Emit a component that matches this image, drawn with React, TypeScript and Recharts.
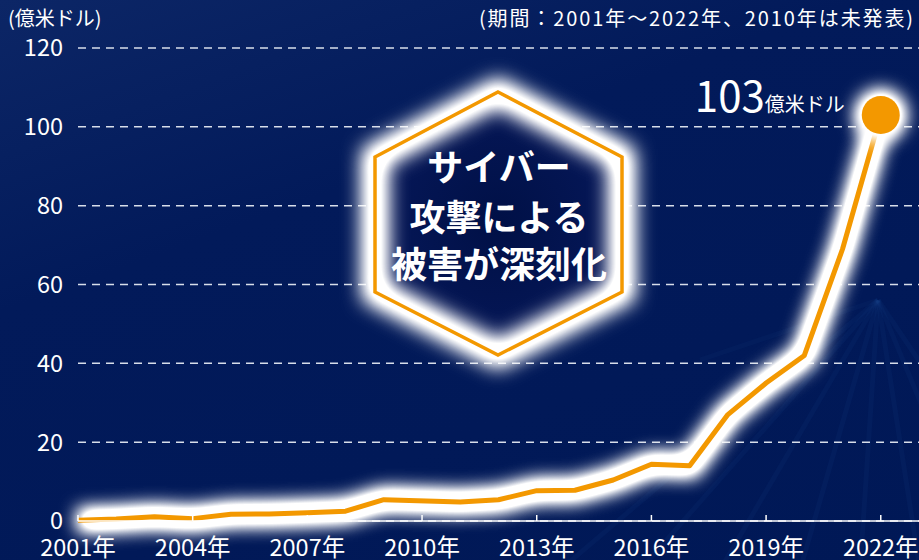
import React from 'react'
import { LineChart, Line, XAxis, YAxis, CartesianGrid } from 'recharts'

const FONT = '"Noto Sans CJK JP", "Noto Sans", sans-serif'

// FBI IC3 被害額（億米ドル）、2010年は未発表
const YEARS = [2001, 2002, 2003, 2004, 2005, 2006, 2007, 2008, 2009, 2010, 2011,
  2012, 2013, 2014, 2015, 2016, 2017, 2018, 2019, 2020, 2021, 2022]
const DAMAGE = [0.2, 0.5, 1.1, 0.6, 1.7, 1.8, 2.1, 2.5, 5.4, null, 4.8,
  5.4, 7.7, 7.8, 10.4, 14.4, 14.0, 27, 35, 42, 69, 103]
const X_TICKS = [2001, 2004, 2007, 2010, 2013, 2016, 2019, 2022]
const Y_TICKS = [0, 20, 40, 60, 80, 100, 120]

const ORANGE = '#f39800'

const YearTick = (props: any) => {
  const { x, y, payload } = props
  return (
    <g>
      <line x1={x} x2={x} y1={y - 6} y2={y} stroke="#ffffff" strokeWidth={1.5} />
      <text x={x} y={y + 35} textAnchor="middle" fill="#ffffff" fontSize={23.5} fontFamily={FONT}>
        {payload.value}年
      </text>
    </g>
  )
}

export default function App() {
  const data = YEARS.map((year, i) => ({ year, value: DAMAGE[i] }))
  const last = data.length - 1

  const renderEndDot = (props: any) => {
    const { cx, cy, index } = props
    if (index !== last || cx == null) return <g key={index} />
    return (
      <g key={index}>
        <circle cx={cx} cy={cy} r={25} fill="#ffffff" filter="url(#glowBig)" />
        <circle cx={cx} cy={cy} r={19} fill={ORANGE} />
        <text x={cx - 36} y={cy - 3} textAnchor="end" fill="#ffffff" fontFamily={FONT}>
          <tspan fontSize={42}>103</tspan>
          <tspan fontSize={20}>億米ドル</tspan>
        </text>
      </g>
    )
  }

  // 六角形の頂点（装飾）
  const hex = '498,92 622,157 622,292 498,355 375,292 375,157'

  return (
    <div style={{
      position: 'absolute', left: 0, top: 0, width: 919, height: 560, overflow: 'hidden',
      background: 'linear-gradient(160deg, #0c2666 0%, #021a5a 35%, #001856 100%)',
      fontFamily: FONT,
    }}>
      {/* 背景の光線 */}
      <svg width={919} height={560} style={{ position: 'absolute', left: 0, top: 0 }}>
        {[560, 640, 720, 800, 860, 920, 990, 1060].map((ex, i) => (
          <line key={i} x1={878} y1={300} x2={ex} y2={570} stroke="#2a5aa0" strokeOpacity={0.08} strokeWidth={5} />
        ))}
        <line x1={878} y1={300} x2={700} y2={360} stroke="#2a5aa0" strokeOpacity={0.07} strokeWidth={5} />
      </svg>

      <LineChart width={919} height={560} data={data}
        margin={{ top: 48, right: 0, bottom: 0, left: 0 }}
        style={{ position: 'absolute', left: 0, top: 0 }}>
        <defs>
          <filter id="glow" x="-10%" y="-30%" width="120%" height="160%">
            <feGaussianBlur stdDeviation="9" />
            <feComponentTransfer>
              <feFuncA type="linear" slope="1.8" />
            </feComponentTransfer>
          </filter>
          <filter id="glowBig" x="-100%" y="-100%" width="300%" height="300%">
            <feGaussianBlur stdDeviation="9" />
            <feComponentTransfer>
              <feFuncA type="linear" slope="1.6" />
            </feComponentTransfer>
          </filter>
        </defs>
        <CartesianGrid vertical={false} stroke="#d8deea" strokeDasharray="8 6" strokeWidth={1.5} />
        <XAxis dataKey="year" type="number" domain={[2001, 2023]} ticks={X_TICKS}
          height={39} tickLine={false} tickSize={0} tickMargin={0}
          axisLine={{ stroke: '#ffffff', strokeWidth: 1.5 }} tick={<YearTick />} interval={0} />
        <YAxis domain={[0, 120]} ticks={Y_TICKS} width={78} axisLine={false} tickLine={false}
          tickSize={0} tickMargin={15}
          tick={{ fill: '#ffffff', fontSize: 23.5, fontFamily: FONT }} />
        <Line type="linear" dataKey="value" stroke="#ffffff" strokeWidth={22}
          filter="url(#glow)" dot={false} activeDot={false} connectNulls isAnimationActive={false} />
        <Line type="linear" dataKey="value" stroke={ORANGE} strokeWidth={5} strokeLinejoin="round"
          dot={renderEndDot} activeDot={false} connectNulls isAnimationActive={false} />
      </LineChart>

      {/* 中央の六角形 */}
      <svg width={919} height={560} style={{ position: 'absolute', left: 0, top: 0, pointerEvents: 'none' }}>
        <defs>
          <filter id="hexGlow" x="-30%" y="-30%" width="160%" height="160%">
            <feGaussianBlur stdDeviation="10" />
            <feComponentTransfer>
              <feFuncA type="linear" slope="1.5" />
            </feComponentTransfer>
          </filter>
          <radialGradient id="hexFill" cx="50%" cy="50%" r="55%">
            <stop offset="0%" stopColor="#001046" />
            <stop offset="100%" stopColor="#06185a" />
          </radialGradient>
        </defs>
        <polygon points={hex} fill="url(#hexFill)" />
        <polygon points={hex} fill="none" stroke="#ffffff" strokeWidth={24} strokeOpacity={0.95} filter="url(#hexGlow)" />
        <polygon points={hex} fill="none" stroke={ORANGE} strokeWidth={3.5} />
        <g fill="#ffffff" fontFamily={FONT} fontWeight={700} fontSize={36} textAnchor="middle">
          <text x={499} y={181}>サイバー</text>
          <text x={499} y={231}>攻撃による</text>
          <text x={499} y={278}>被害が深刻化</text>
        </g>
      </svg>

      <div style={{ position: 'absolute', left: 8, top: 6, color: '#ffffff', fontSize: 20, lineHeight: '24px' }}>
        (億米ドル)
      </div>
      <div style={{
        position: 'absolute', right: 4, top: 6, color: '#ffffff', fontSize: 20, lineHeight: '24px',
        letterSpacing: 1.9,
      }}>
        (期間：2001年～2022年、2010年は未発表)
      </div>
    </div>
  )
}
